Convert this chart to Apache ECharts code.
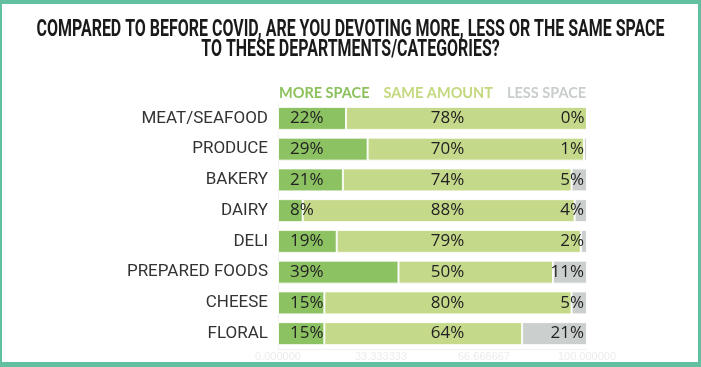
<!DOCTYPE html>
<html>
<head>
<meta charset="utf-8">
<script src="https://cdn.jsdelivr.net/npm/echarts@6/dist/echarts.min.js"></script>
<style>
html,body{margin:0;padding:0;background:#fff;}
#frame{position:absolute;left:0;top:0;width:701px;height:367px;box-sizing:border-box;border-style:solid;border-color:#62c0a0;border-width:4px 3px 5px 2px;}
#chart{position:absolute;left:0;top:0;width:701px;height:367px;}
</style>
</head>
<body>
<div id="chart"></div>
<div id="frame"></div>
<script>
const titleText = 'COMPARED TO BEFORE COVID, ARE YOU DEVOTING MORE, LESS OR THE SAME SPACE\nTO THESE DEPARTMENTS/CATEGORIES?';
const categories = ['MEAT/SEAFOOD','PRODUCE','BAKERY','DAIRY','DELI','PREPARED FOODS','CHEESE','FLORAL'];
const seriesNames = ['MORE SPACE','SAME AMOUNT','LESS SPACE'];
const moreSpace = [22, 29, 21, 8, 19, 39, 15, 15];
const sameAmount = [78, 70, 74, 88, 79, 50, 80, 64];
const lessSpace = [0, 1, 5, 4, 2, 11, 5, 21];
const axisMax = 100;
const axisInterval = 100 / 3;

const barColors = ['#8dc263', '#c5d98b', '#cbd0cf'];
const legendColors = ['#8cc15d', '#c3d97e', '#c9cdcd'];
const totals = categories.map((c, i) => moreSpace[i] + sameAmount[i] + lessSpace[i]);

const valueFont = { fontFamily: 'Open Sans', fontSize: 17, color: '#222' };
const chart = echarts.init(document.getElementById('chart'), null, { renderer: 'canvas' });
const option = {
  animation: false,
  graphic: [{
    type: 'text',
    x: 350.5,
    y: 40,
    scaleX: 0.694,
    style: {
      text: titleText,
      align: 'center',
      verticalAlign: 'middle',
      font: 'bold 23px Roboto',
      lineHeight: 20,
      fill: '#1a1a1a'
    }
  }],
  legend: {
    data: seriesNames.map((n, i) => ({ name: n, textStyle: { color: legendColors[i] } })),
    left: 273,
    top: 86,
    padding: 0,
    itemWidth: 0,
    itemHeight: 0,
    itemGap: 8,
    icon: 'rect',
    selectedMode: false,
    textStyle: { fontFamily: 'Lato', fontWeight: 'bold', fontSize: 14.5 }
  },
  grid: { left: 278, right: 114, top: 103, bottom: 18, containLabel: false },
  xAxis: {
    type: 'value', min: 0, max: axisMax, interval: axisInterval,
    axisLine: { show: true, lineStyle: { color: '#f0f0f0' } },
    axisTick: { show: false },
    splitLine: { show: false },
    axisLabel: { color: '#ececec', fontSize: 11, margin: 2, formatter: v => v.toFixed(6) }
  },
  yAxis: {
    type: 'category', data: categories, inverse: true,
    axisLine: { show: true, lineStyle: { color: '#f2f2f2' } },
    axisTick: { show: false },
    axisLabel: { fontFamily: 'Roboto', fontSize: 17, color: '#333', margin: 10 }
  },
  series: [
    {
      name: seriesNames[0], type: 'bar', stack: 'total', data: moreSpace, barWidth: 23,
      itemStyle: { color: barColors[0], borderColor: 'rgba(255,255,255,0.85)', borderWidth: 1 },
      label: { show: true, position: 'insideLeft', distance: 12, formatter: p => p.value + '%', ...valueFont }
    },
    {
      name: seriesNames[1], type: 'bar', stack: 'total', data: sameAmount, barWidth: 23,
      itemStyle: { color: barColors[1], borderColor: 'rgba(255,255,255,0.85)', borderWidth: 1 }
    },
    {
      name: seriesNames[2], type: 'bar', stack: 'total', data: lessSpace, barWidth: 23,
      itemStyle: { color: barColors[2], borderColor: 'rgba(255,255,255,0.85)', borderWidth: 1 },
      label: { show: true, position: 'insideRight', distance: 3, formatter: p => p.value + '%', ...valueFont }
    },
    {
      name: 'sameLabel', type: 'bar', data: totals, barWidth: 23, barGap: '-100%', silent: true,
      itemStyle: { color: 'rgba(0,0,0,0)' },
      label: { show: true, position: 'inside', offset: [15, 0], formatter: p => sameAmount[p.dataIndex] + '%', ...valueFont }
    }
  ]
};
chart.setOption(option);
</script>
</body>
</html>
